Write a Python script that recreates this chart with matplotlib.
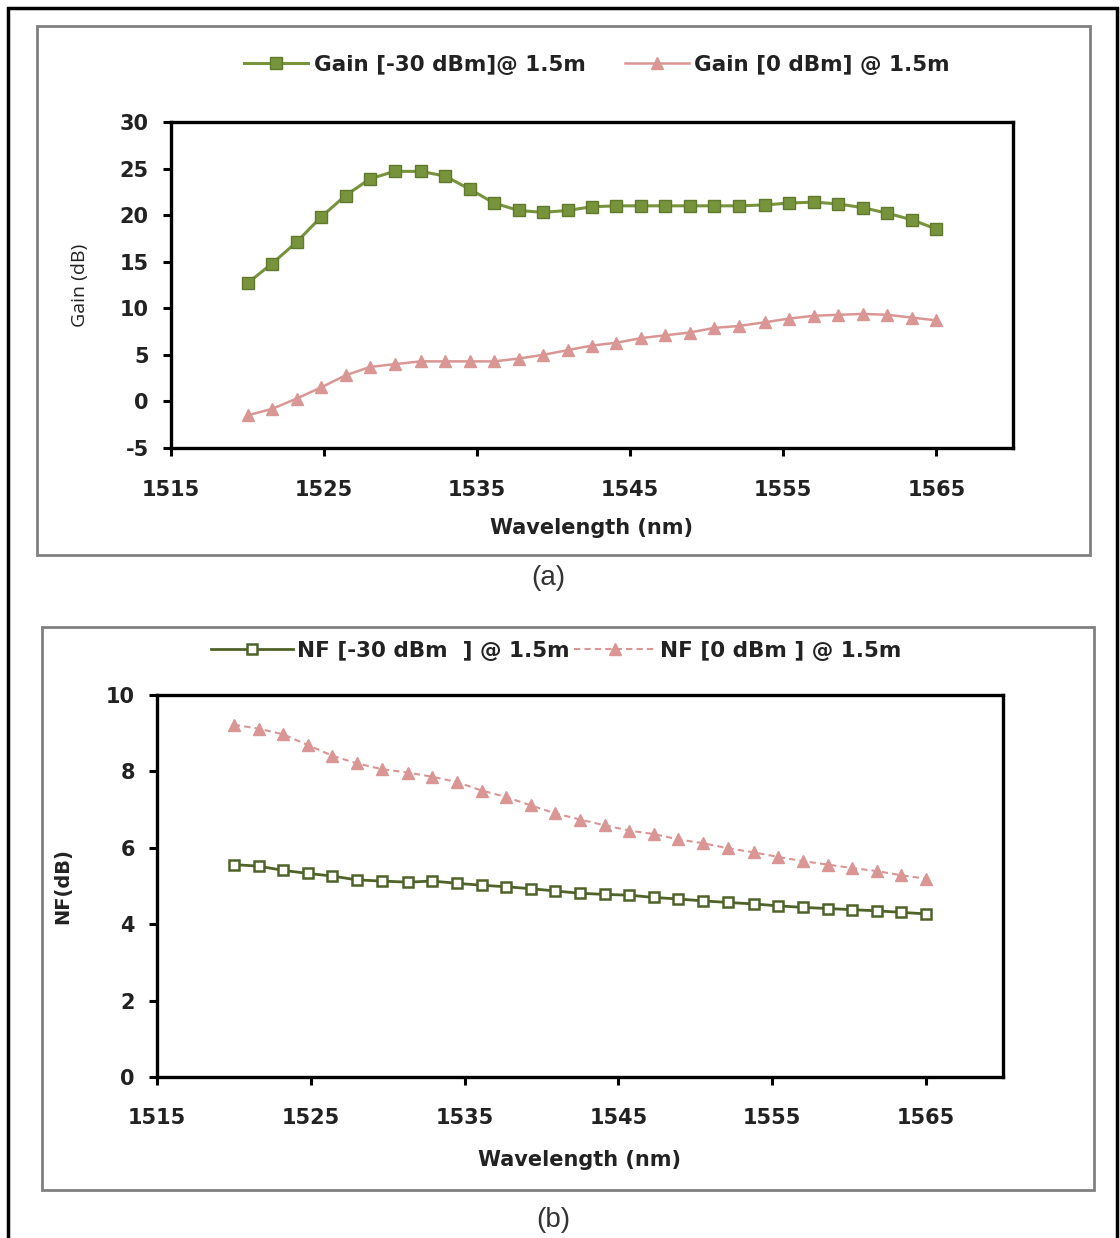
import matplotlib
matplotlib.use("Agg")
import matplotlib.pyplot as plt
from matplotlib.patches import Rectangle

plt.rcParams["axes.unicode_minus"] = False

# ----------------------------
# Datos
# ----------------------------
wavelength = [1520.0, 1521.6, 1523.2, 1524.8, 1526.4, 1528.0, 1529.6, 1531.3,
              1532.9, 1534.5, 1536.1, 1537.7, 1539.3, 1540.9, 1542.5, 1544.1,
              1545.7, 1547.3, 1548.9, 1550.5, 1552.1, 1553.8, 1555.4, 1557.0,
              1558.6, 1560.2, 1561.8, 1563.4, 1565.0]

gain_m30 = [12.7, 14.8, 17.1, 19.8, 22.1, 23.9, 24.7, 24.7, 24.2, 22.8,
            21.3, 20.5, 20.3, 20.5, 20.9, 21.0, 21.0, 21.0, 21.0, 21.0,
            21.0, 21.1, 21.3, 21.4, 21.2, 20.8, 20.2, 19.5, 18.5]

gain_0 = [-1.5, -0.8, 0.3, 1.5, 2.8, 3.7, 4.0, 4.3, 4.3, 4.3,
          4.3, 4.6, 5.0, 5.5, 6.0, 6.3, 6.8, 7.1, 7.4, 7.9,
          8.1, 8.5, 8.9, 9.2, 9.3, 9.4, 9.3, 9.0, 8.7]

nf_m30 = [5.56, 5.52, 5.41, 5.33, 5.26, 5.16, 5.13, 5.10, 5.13, 5.07,
          5.02, 4.98, 4.93, 4.87, 4.81, 4.78, 4.76, 4.70, 4.66, 4.61,
          4.57, 4.53, 4.48, 4.44, 4.41, 4.38, 4.35, 4.31, 4.27]

nf_0 = [9.22, 9.12, 8.97, 8.69, 8.41, 8.21, 8.06, 7.97, 7.86, 7.72,
        7.50, 7.33, 7.11, 6.90, 6.74, 6.59, 6.45, 6.36, 6.22, 6.12,
        5.99, 5.88, 5.76, 5.65, 5.56, 5.47, 5.39, 5.28, 5.19]

x_ticks = [1515, 1525, 1535, 1545, 1555, 1565]
gain_ticks = [-5, 0, 5, 10, 15, 20, 25, 30]
nf_ticks = [0, 2, 4, 6, 8, 10]

labels_gain = ["Gain [-30 dBm]@ 1.5m", "Gain [0 dBm] @ 1.5m"]
labels_nf = ["NF [-30 dBm  ] @ 1.5m", "NF [0 dBm ] @ 1.5m"]

GREEN = "#77933C"
DKGREEN = "#4F6228"
PINK = "#D99694"
TXT = "#222222"

W, H = 1120, 1238


def fx(px):
    return px / W


def fy(py):
    return 1 - py / H


def style_axes(ax, pad):
    for s in ax.spines.values():
        s.set_linewidth(2.4)
        s.set_color("black")
    ax.tick_params(direction="out", length=6, width=2.2, labelsize=15)
    ax.tick_params(axis="x", pad=pad)
    ax.tick_params(axis="y", pad=10)
    for lab in ax.get_xticklabels() + ax.get_yticklabels():
        lab.set_fontweight("bold")
        lab.set_color(TXT)


fig = plt.figure(figsize=(W / 100, H / 100), dpi=100)

# marcos
fig.patches.append(Rectangle((fx(8), fy(1250)), fx(1117) - fx(8), fy(8) - fy(1250),
                             transform=fig.transFigure, fill=False, ec="black", lw=2.5))
fig.patches.append(Rectangle((fx(37), fy(555)), fx(1090) - fx(37), fy(26) - fy(555),
                             transform=fig.transFigure, fill=False, ec="#808080", lw=2))
fig.patches.append(Rectangle((fx(42), fy(1190)), fx(1094) - fx(42), fy(627) - fy(1190),
                             transform=fig.transFigure, fill=False, ec="#808080", lw=2))

# ------------------------
# (a) Gain
# ------------------------
ax1 = fig.add_axes([fx(171), fy(448), fx(1013) - fx(171), fy(122) - fy(448)])
l1, = ax1.plot(wavelength, gain_m30, color=GREEN, lw=2.2, marker="s", ms=8,
               mfc=GREEN, mec="#5f7a2c", mew=1)
l2, = ax1.plot(wavelength, gain_0, color=PINK, lw=1.8, marker="^", ms=9,
               mfc=PINK, mec=PINK)
ax1.set_xlim(1515, 1570)
ax1.set_ylim(-5, 30)
ax1.set_xticks(x_ticks)
ax1.set_yticks(gain_ticks)
style_axes(ax1, 17)
ax1.set_xlabel("Wavelength (nm)", fontsize=15, fontweight="bold", color=TXT, labelpad=13)
ax1.set_ylabel("Gain (dB)", fontsize=14, family="Open Sans", color=TXT, labelpad=22)
leg1 = ax1.legend([l1, l2], labels_gain, ncol=2, loc="center", frameon=False,
                  bbox_to_anchor=(fx(597), fy(65)), bbox_transform=fig.transFigure,
                  handlelength=3.0, handletextpad=0.25, columnspacing=1.8,
                  prop={"family": "DejaVu Sans", "weight": "bold", "size": 15.5})
for t in leg1.get_texts():
    t.set_color(TXT)
fig.text(fx(548), fy(578), "(a)", ha="center", va="center", fontsize=20,
         family="Liberation Sans", color="#333333")

# ------------------------
# (b) NF
# ------------------------
ax2 = fig.add_axes([fx(157), fy(1077), fx(1003) - fx(157), fy(695) - fy(1077)])
l3, = ax2.plot(wavelength, nf_m30, color=DKGREEN, lw=2.0, marker="s", ms=7,
               mfc="white", mec=DKGREEN, mew=1.8)
l4, = ax2.plot(wavelength, nf_0, color=PINK, lw=1.5, ls=(0, (3, 2)), marker="^", ms=9,
               mfc=PINK, mec=PINK)
ax2.set_xlim(1515, 1570)
ax2.set_ylim(0, 10)
ax2.set_xticks(x_ticks)
ax2.set_yticks(nf_ticks)
style_axes(ax2, 16)
ax2.set_xlabel("Wavelength (nm)", fontsize=15, fontweight="bold", color=TXT, labelpad=16)
ax2.set_ylabel("NF(dB)", fontsize=14, fontweight="bold", color=TXT, labelpad=24)
leg2 = ax2.legend([l3, l4], labels_nf, ncol=2, loc="center", frameon=False,
                  bbox_to_anchor=(fx(556), fy(651)), bbox_transform=fig.transFigure,
                  handlelength=3.8, handletextpad=0.2, columnspacing=0.2,
                  prop={"family": "DejaVu Sans", "weight": "bold", "size": 15.5})
for t in leg2.get_texts():
    t.set_color(TXT)
fig.text(fx(553), fy(1220), "(b)", ha="center", va="center", fontsize=20,
         family="Liberation Sans", color="#333333")

fig.savefig("out.png", dpi=100)
